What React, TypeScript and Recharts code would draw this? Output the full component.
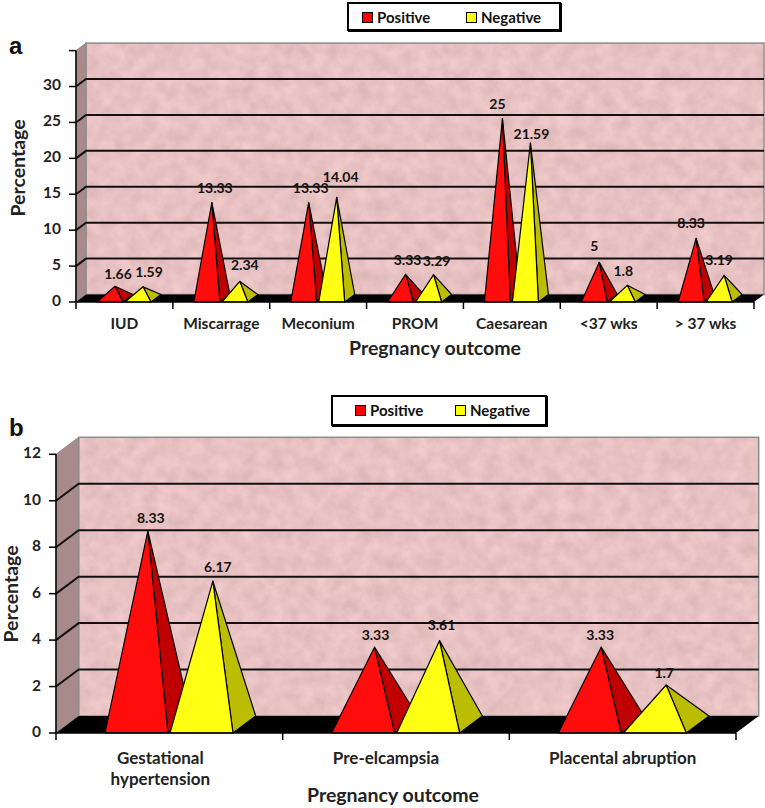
import React from "react";
import { BarChart, Bar, XAxis, YAxis, CartesianGrid, LabelList, Legend } from "recharts";

// panel a
const outcomesA = ["IUD", "Miscarrage", "Meconium", "PROM", "Caesarean", "<37 wks", "> 37 wks"];
const positiveA = [1.66, 13.33, 13.33, 3.33, 25, 5, 8.33];
const negativeA = [1.59, 2.34, 14.04, 3.29, 21.59, 1.8, 3.19];
const ticksA = [0, 5, 10, 15, 20, 25, 30, 35];
const tickLabelsA = ["0", "5", "10", "15", "20", "25", "30", ""];

// panel b
const outcomesB = ["Gestational hypertension", "Pre-elcampsia", "Placental abruption"];
const positiveB = [8.33, 3.33, 3.33];
const negativeB = [6.17, 3.61, 1.7];
const ticksB = [0, 2, 4, 6, 8, 10, 12];
const tickLabelsB = ["0", "2", "4", "6", "8", "10", "12"];

// hand placed data labels in the source figure: [dx, dy] from the pyramid tip
const labelNudgeA = {
  pos: [[3, -11], [3, -13], [2, -13], [2, -13], [-5, -13], [-5, -15], [-5, -14]],
  neg: [[6, -13], [5, -15], [4, -19], [3, -12], [1, -8], [-4, -13], [-5, -14]],
};
const labelNudgeB = {
  pos: [[3, -12], [1, -11], [-1, -11]],
  neg: [[5, -13], [2, -14], [-2, -11]],
};
// category labels in panel b sit off centre in the source
const xLabelShiftA = [0, 0, 0, 0, 0, 0, 0];
const xLabelShiftB = [-9, -10, 0];

const FONT = "Lato, Carlito, 'Open Sans', sans-serif";

const makeRows = (cats: string[], pos: number[], neg: number[]) =>
  cats.map((name, i) => ({ name, positive: pos[i], negative: neg[i] }));

function Pyramid({ x, y, width, height, dx, dy, front, side }: any) {
  if (height == null) return null;
  const base = y + height;
  const right = x + width;
  const tipX = x + width / 2 + dx / 2;
  const tipY = y + dy / 2;
  return (
    <g stroke="#000" strokeWidth={1.2} strokeLinejoin="round">
      <polygon points={`${right},${base} ${right + dx},${base + dy} ${tipX},${tipY}`} fill={side} />
      <polygon points={`${x},${base} ${right},${base} ${tipX},${tipY}`} fill={front} />
    </g>
  );
}

function TipLabel({ x, y, width, value, index, dx, dy, nudge }: any) {
  const [nx, ny] = nudge[index];
  return (
    <text
      x={x + width / 2 + dx / 2 + nx}
      y={y + dy / 2 + ny}
      textAnchor="middle"
      dominantBaseline="middle"
      fontFamily={FONT}
      fontWeight={700}
      fontSize={14}
      fill="#111"
    >
      {value}
    </text>
  );
}

function LegendBox({ payload, boxStyle, swatchLefts }: any) {
  return (
    <div
      style={{
        ...boxStyle,
        boxSizing: "border-box",
        border: "2px solid #000",
        background: "#fff",
        fontFamily: FONT,
        fontWeight: 700,
        fontSize: 15,
        color: "#111",
        boxShadow: "1px 1px 0 #000",
      }}
    >
      {(payload || []).map((p: any, i: number) => (
        <span
          key={p.value}
          style={{ position: "absolute", left: swatchLefts[i], top: 4, display: "flex", alignItems: "center", gap: 4 }}
        >
          <span style={{ width: 9, height: 9, background: p.color, border: "1.5px solid #000" }} />
          {p.value}
        </span>
      ))}
    </div>
  );
}

interface PanelProps {
  rows: any[];
  ticks: number[];
  tickLabels: string[];
  top: number;
  height: number;
  plotLeft: number;
  plotRight: number;
  plotTop: number;
  plotBottom: number;
  dx: number;
  dy: number;
  barSize: number;
  fontSize: number;
  xLabelY: number;
  xLabelShift: number[];
  nudge: { pos: number[][]; neg: number[][] };
  titleDx: number;
  titleOffset: number;
  yTitleX: number;
  yTitleY: number;
  legendStyle: any;
  swatchLefts: number[];
  filterId: string;
}

function Panel(p: PanelProps) {
  const { dx, dy, plotLeft, plotRight, plotTop, plotBottom } = p;
  const band = (plotRight - plotLeft) / p.rows.length;

  // walls, floor and the gridlines all come through the grid so they stay under the bars
  const gridLine = (g: any) => {
    const isTop = Math.abs(g.y1 - plotTop) < 1;
    const isBottom = Math.abs(g.y1 - plotBottom) < 1;
    return (
      <g key={g.key}>
        {g.index === 0 && (
          <g>
            <defs>
              <filter id={p.filterId} x="0" y="0" width="100%" height="100%" colorInterpolationFilters="sRGB">
                <feTurbulence type="fractalNoise" baseFrequency="0.07" numOctaves={4} seed={7} />
                <feColorMatrix
                  type="matrix"
                  values="0.12 0 0 0 0.85  0.12 0 0 0 0.70  0.12 0 0 0 0.70  0 0 0 0 1"
                />
              </filter>
            </defs>
            <rect
              x={plotLeft + dx}
              y={plotTop + dy}
              width={plotRight - plotLeft}
              height={plotBottom - plotTop}
              filter={`url(#${p.filterId})`}
            />
            <rect
              x={plotLeft + dx}
              y={plotTop + dy}
              width={plotRight - plotLeft}
              height={plotBottom - plotTop}
              fill="none"
              stroke="#8c8c8c"
              strokeWidth={1.5}
            />
            <polygon
              points={`${plotLeft},${plotBottom} ${plotLeft + dx},${plotBottom + dy} ${plotLeft + dx},${plotTop + dy} ${plotLeft},${plotTop}`}
              fill="#a98a8b"
              stroke="#8c8c8c"
            />
          </g>
        )}
        {isBottom ? (
          <polygon
            points={`${plotLeft},${plotBottom} ${plotRight},${plotBottom} ${plotRight + dx},${plotBottom + dy} ${plotLeft + dx},${plotBottom + dy}`}
            fill="#000"
          />
        ) : (
          !isTop && (
            <polyline
              points={`${plotLeft},${g.y1} ${plotLeft + dx},${g.y1 + dy} ${plotRight + dx},${g.y1 + dy}`}
              fill="none"
              stroke="#111"
              strokeWidth={2}
            />
          )
        )}
      </g>
    );
  };

  const xTick = ({ x, y, payload, index }: any) => {
    const words = payload.value.length > 20 ? payload.value.split(" ") : [payload.value];
    return (
      <g>
        <line x1={x - band / 2} x2={x - band / 2} y1={plotBottom} y2={plotBottom + 7} stroke="#000" strokeWidth={1.5} />
        {index === p.rows.length - 1 && (
          <line x1={x + band / 2} x2={x + band / 2} y1={plotBottom} y2={plotBottom + 7} stroke="#000" strokeWidth={1.5} />
        )}
        {words.map((w: string, i: number) => (
          <text
            key={w}
            x={x + p.xLabelShift[index]}
            y={y + p.xLabelY + i * 21}
            textAnchor="middle"
            fontFamily={FONT}
            fontWeight={700}
            fontSize={p.fontSize}
            fill="#222"
          >
            {w}
          </text>
        ))}
      </g>
    );
  };

  const yTick = ({ x, y, index }: any) => (
    <text
      x={x - 6}
      y={y}
      textAnchor="end"
      dominantBaseline="middle"
      fontFamily={FONT}
      fontWeight={700}
      fontSize={15.5}
      fill="#222"
    >
      {p.tickLabels[index]}
    </text>
  );

  return (
    <div style={{ position: "absolute", left: 0, top: p.top }}>
      <BarChart
        width={765}
        height={p.height}
        data={p.rows}
        barSize={p.barSize}
        barGap={2}
        margin={{ left: 0, right: 765 - plotRight, top: plotTop, bottom: 0 }}
      >
        <CartesianGrid vertical={false} horizontal={gridLine} />
        <XAxis
          dataKey="name"
          interval={0}
          height={p.height - plotBottom}
          tickLine={false}
          axisLine={{ stroke: "#000", strokeWidth: 1.5 }}
          tick={xTick}
          label={{
            value: "Pregnancy outcome",
            position: "insideBottom",
            offset: p.titleOffset,
            dx: p.titleDx,
            fontFamily: FONT,
            fontWeight: 700,
            fontSize: 19.5,
            fill: "#222",
          }}
        />
        <YAxis
          width={plotLeft}
          domain={[p.ticks[0], p.ticks[p.ticks.length - 1]]}
          ticks={p.ticks}
          interval={0}
          tickSize={7}
          tickLine={{ stroke: "#000", strokeWidth: 1.5 }}
          axisLine={{ stroke: "#000", strokeWidth: 1.5 }}
          tick={yTick}
          label={{
            value: "Percentage",
            angle: -90,
            position: "center",
            dx: p.yTitleX - plotLeft / 2,
            dy: p.yTitleY - (plotTop + plotBottom) / 2,
            fontFamily: FONT,
            fontWeight: 700,
            fontSize: 19.5,
            fill: "#222",
          }}
        />
        <Legend
          verticalAlign="top"
          itemSorter={null}
          content={(props: any) => <LegendBox payload={props.payload} boxStyle={p.legendStyle} swatchLefts={p.swatchLefts} />}
          wrapperStyle={{ position: "absolute", left: 0, top: 0, width: 765, height: 0 }}
        />
        <Bar
          dataKey="positive"
          name="Positive"
          fill="#ff0000"
          isAnimationActive={false}
          shape={(s: any) => <Pyramid {...s} dx={dx} dy={dy} front="#ff0d0d" side="#c00000" />}
        >
          <LabelList
            dataKey="positive"
            content={(l: any) => <TipLabel {...l} dx={dx} dy={dy} nudge={p.nudge.pos} />}
          />
        </Bar>
        <Bar
          dataKey="negative"
          name="Negative"
          fill="#ffff00"
          isAnimationActive={false}
          shape={(s: any) => <Pyramid {...s} dx={dx} dy={dy} front="#ffff14" side="#bdbd00" />}
        >
          <LabelList
            dataKey="negative"
            content={(l: any) => <TipLabel {...l} dx={dx} dy={dy} nudge={p.nudge.neg} />}
          />
        </Bar>
      </BarChart>
    </div>
  );
}

const letter = (c: string, top: number, left: number) => (
  <div
    style={{
      position: "absolute",
      left,
      top,
      fontFamily: "'Liberation Sans', Arial, sans-serif",
      fontWeight: 700,
      fontSize: 24,
      lineHeight: "24px",
      color: "#111",
    }}
  >
    {c}
  </div>
);

export default function App() {
  return (
    <div style={{ position: "absolute", left: 0, top: 0, width: 765, height: 808, background: "#fff", overflow: "hidden" }}>
      <Panel
        rows={makeRows(outcomesA, positiveA, negativeA)}
        ticks={ticksA}
        tickLabels={tickLabelsA}
        top={0}
        height={370}
        plotLeft={76}
        plotRight={754}
        plotTop={50.6}
        plotBottom={302}
        dx={10}
        dy={-7.5}
        barSize={26}
        fontSize={15.5}
        xLabelY={19}
        xLabelShift={xLabelShiftA}
        nudge={labelNudgeA}
        titleDx={20}
        titleOffset={15}
        yTitleX={18}
        yTitleY={168}
        legendStyle={{ position: "absolute", left: 347, top: 2, width: 214, height: 29 }}
        swatchLefts={[13, 117]}
        filterId="wallA"
      />
      <Panel
        rows={makeRows(outcomesB, positiveB, negativeB)}
        ticks={ticksB}
        tickLabels={tickLabelsB}
        top={385}
        height={423}
        plotLeft={56}
        plotRight={736}
        plotTop={69.3}
        plotBottom={348}
        dx={22.7}
        dy={-17}
        barSize={63}
        fontSize={17}
        xLabelY={23}
        xLabelShift={xLabelShiftB}
        nudge={labelNudgeB}
        titleDx={-3}
        titleOffset={6}
        yTitleX={11}
        yTitleY={209}
        legendStyle={{ position: "absolute", left: 331, top: 10, width: 216, height: 31 }}
        swatchLefts={[22, 122]}
        filterId="wallB"
      />
      {letter("a", 34, 9)}
      {letter("b", 416, 9)}
    </div>
  );
}
